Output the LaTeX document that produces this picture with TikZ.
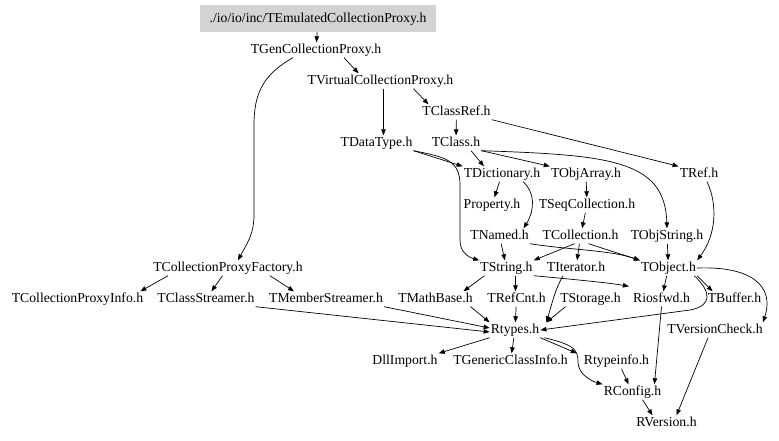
\documentclass[tikz,border=0pt]{standalone}
\usepackage{fontspec}
\setmainfont{Liberation Serif}
\usetikzlibrary{arrows.meta}
\definecolor{rootgray}{RGB}{211,211,211}

\begin{document}
\begin{tikzpicture}[x=1pt,y=-1pt,
  hfile/.style={font=\fontsize{13.7}{16}\selectfont, inner sep=1pt, text height=10pt, text depth=3pt},
  dep/.style={-{Triangle[length=6pt,width=4.5pt]}, line width=0.7pt}]
\useasboundingbox (0,0) rectangle (779,440);
% header files, one row per rank
\node[hfile, fill=rootgray, minimum width=236pt, minimum height=27pt] (root) at (318,18.5) {./io/io/inc/TEmulatedCollectionProxy.h};
\node[hfile] (tgen)   at (316,50)    {TGenCollectionProxy.h};
\node[hfile] (tvirt)  at (380.5,81)  {TVirtualCollectionProxy.h};
\node[hfile] (tcref)  at (456.5,112) {TClassRef.h};
\node[hfile] (tdtype) at (376.5,143) {TDataType.h};
\node[hfile] (tclass) at (456,143)   {TClass.h};
\node[hfile] (tdict)  at (502,174)   {TDictionary.h};
\node[hfile] (toarr)  at (586,174)   {TObjArray.h};
\node[hfile] (tref)   at (699,174)   {TRef.h};
\node[hfile] (prop)   at (492,205)   {Property.h};
\node[hfile] (tseq)   at (587,205)   {TSeqCollection.h};
\node[hfile] (tnamed) at (499.5,236) {TNamed.h};
\node[hfile] (tcoll)  at (580.5,236) {TCollection.h};
\node[hfile] (tostr)  at (667,236)   {TObjString.h};
\node[hfile] (tcpf)   at (228,268)   {TCollectionProxyFactory.h};
\node[hfile] (tstr)   at (506.5,268) {TString.h};
\node[hfile] (titer)  at (576,268)   {TIterator.h};
\node[hfile] (tobj)   at (668.5,268) {TObject.h};
\node[hfile] (tcpi)   at (77.5,299)  {TCollectionProxyInfo.h};
\node[hfile] (tcs)    at (206,299)   {TClassStreamer.h};
\node[hfile] (tms)    at (326,299)   {TMemberStreamer.h};
\node[hfile] (tmath)  at (435.5,299) {TMathBase.h};
\node[hfile] (trefc)  at (516.5,299) {TRefCnt.h};
\node[hfile] (tstor)  at (590.5,299) {TStorage.h};
\node[hfile] (rios)   at (661.5,299) {Riosfwd.h};
\node[hfile] (tbuf)   at (734.5,299) {TBuffer.h};
\node[hfile] (rtypes) at (515,330)   {Rtypes.h};
\node[hfile] (tvchk)  at (715,330)   {TVersionCheck.h};
\node[hfile] (dll)    at (405,361)   {DllImport.h};
\node[hfile] (tgci)   at (510.5,361) {TGenericClassInfo.h};
\node[hfile] (rtinfo) at (616.5,361) {Rtypeinfo.h};
\node[hfile] (rconf)  at (632.5,392) {RConfig.h};
\node[hfile] (rver)   at (666.5,423) {RVersion.h};
% includes
\draw[dep] (root) -- (tgen);
\draw[dep] ([xshift=28pt]tgen.south) -- ([xshift=-22pt]tvirt.north);
\draw[dep] ([xshift=-23pt]tgen.south) .. controls (262,75) and (254,95) .. (254,125) -- (254,215) .. controls (254,235) and (246,245) .. ([xshift=10pt]tcpf.north);
\draw[dep] ([xshift=33pt]tvirt.south) -- ([xshift=-28pt]tcref.north);
\draw[dep] ([xshift=3pt]tvirt.south) -- ([xshift=7pt]tdtype.north);
\draw[dep] (tcref) -- (tclass);
\draw[dep] (tcref.south east) -- (tref.north west);
\draw[dep] (tdtype.south east) -- (tdict.north west);
\draw[dep] (tdtype.south east) .. controls (445,157) and (460,160) .. (460,185) -- (460,240) .. controls (460,252) and (468,257) .. (tstr.north west);
\draw[dep] ([xshift=15pt]tclass.south) -- ([xshift=-18pt]tdict.north);
\draw[dep] (tclass.south east) -- (toarr.north west);
\draw[dep] (tclass.south east) .. controls (610,155) and (665,160) .. (tostr.north);
\draw[dep] (tdict) -- (prop);
\draw[dep] ([xshift=21pt]tdict.south) .. controls (535,192) and (535,210) .. ([xshift=24pt]tnamed.north);
\draw[dep] (toarr) -- (tseq);
\draw[dep] (tseq) -- (tcoll);
\draw[dep] (tnamed) -- (tstr);
\draw[dep] (tnamed.south east) .. controls (570,250) and (610,250) .. (tobj.north west);
\draw[dep] ([xshift=-6pt]tcoll.south) -- (tstr.north east);
\draw[dep] (tcoll) -- (titer);
\draw[dep] ([xshift=8pt]tcoll.south) -- (tobj.north west);
\draw[dep] (tostr) -- (tobj);
\draw[dep] ([xshift=8pt]tref.south) .. controls (718,205) and (716,235) .. (tobj.north east);
\draw[dep] ([xshift=-60pt]tcpf.south) -- ([xshift=-4pt]tcpi.north east);
\draw[dep] (tcpf) -- (tcs);
\draw[dep] ([xshift=42pt]tcpf.south) -- ([xshift=-32pt]tms.north);
\draw[dep] ([xshift=-22pt]tstr.south) -- ([xshift=28pt]tmath.north);
\draw[dep] ([xshift=9pt]tstr.south) -- ([xshift=-1pt]trefc.north);
\draw[dep] (tstr.south east) .. controls (580,280) and (610,283) .. ([xshift=-3pt,yshift=5pt]rios.north west);
\draw[dep] ([xshift=-13pt]titer.south) .. controls (555,290) and (553,300) .. ([xshift=6pt]rtypes.north east);
\draw[dep] ([xshift=-25pt]tstor.south) -- ([xshift=6pt]rtypes.north east);
\draw[dep] (tobj) -- (rios);
\draw[dep] (tobj.south east) -- ([xshift=-22pt]tbuf.north);
\draw[dep] ([xshift=-3pt]tobj.south east) .. controls (712,292) and (712,306) .. (690,310) -- (rtypes.east);
\draw[dep] (tobj.east) .. controls (750,266) and (775,285) .. ([xshift=48pt]tvchk.north);
\draw[dep] (tcs.south east) -- ([yshift=-2pt]rtypes.west);
\draw[dep] (tms.south east) -- ([yshift=2pt]rtypes.west);
\draw[dep] ([xshift=35pt]tmath.south) -- (rtypes.north west);
\draw[dep] (trefc) -- (rtypes);
\draw[dep] (rios.south) -- ([xshift=-8pt]rconf.north east);
\draw[dep] (rtypes.south west) -- (dll.north east);
\draw[dep] (rtypes) -- (tgci);
\draw[dep] (rtypes.south east) -- ([xshift=-6pt]rtinfo.north west);
\draw[dep] ([xshift=4pt]rtypes.south east) .. controls (575,345) and (578,350) .. (578,362) .. controls (578,372) and (588,380) .. (rconf.north west);
\draw[dep] ([xshift=5pt]rtinfo.south) -- ([xshift=-4pt]rconf.north);
\draw[dep] ([xshift=-7pt]tvchk.south) -- ([xshift=10pt]rver.north);
\draw[dep] ([xshift=10pt]rconf.south) -- ([xshift=-14pt]rver.north);
\end{tikzpicture}
\end{document}
